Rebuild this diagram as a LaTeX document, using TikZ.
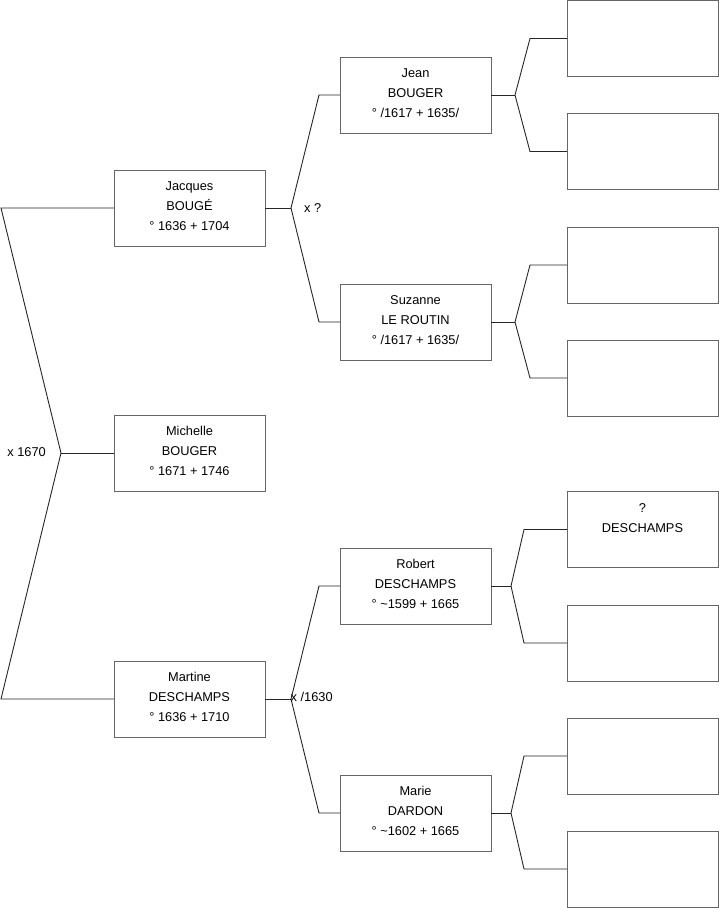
\documentclass[tikz,border=0pt]{standalone}
\usepackage{fontspec}
\setmainfont{Liberation Sans}
\begin{document}
\begin{tikzpicture}[x=1pt,y=-1pt,
  person/.style={draw=black!60, line width=1pt, minimum width=151pt, minimum height=76pt, anchor=north west, inner sep=0pt, outer sep=0pt},
  ptext/.style={anchor=north, yshift=-7.5pt, inner sep=0pt, align=center, font=\fontsize{12.8}{20}\selectfont},
  lbl/.style={inner sep=0pt, font=\fontsize{12.8}{15}\selectfont},
  conn/.style={draw=black!85, line width=0.9pt}]
\useasboundingbox (0,0) rectangle (719,908);
\newcommand{\fl}{\rule{0pt}{13pt}}
% generation 1
\node[person, label={[ptext]north:{\fl Michelle\\BOUGER\\° 1671 + 1746}}] (michelle) at (114,415) {};
% generation 2
\node[person, label={[ptext]north:{\fl Jacques\\BOUGÉ\\° 1636 + 1704}}] (jacques) at (114,170) {};
\node[person, label={[ptext]north:{\fl Martine\\DESCHAMPS\\° 1636 + 1710}}] (martine) at (114,661) {};
% generation 3
\node[person, label={[ptext]north:{\fl Jean\\BOUGER\\° /1617 + 1635/}}] (jean) at (340,57) {};
\node[person, label={[ptext]north:{\fl Suzanne\\LE ROUTIN\\° /1617 + 1635/}}] (suzanne) at (340,284) {};
\node[person, label={[ptext]north:{\fl Robert\\DESCHAMPS\\° \textasciitilde1599 + 1665}}] (robert) at (340,548) {};
\node[person, label={[ptext]north:{\fl Marie\\DARDON\\° \textasciitilde1602 + 1665}}] (marie) at (340,775) {};
% generation 4
\node[person] (g1) at (567,0.5) {};
\node[person] (g2) at (567,113.5) {};
\node[person] (g3) at (567,227) {};
\node[person] (g4) at (567,340) {};
\node[person, label={[ptext]north:{\fl ?\\DESCHAMPS}}] (g5) at (567,491.5) {};
\node[person] (g6) at (567,605) {};
\node[person] (g7) at (567,718) {};
\node[person] (g8) at (567,831) {};
% coordinates
\coordinate (L1) at (1,208);
\coordinate (L2) at (1,699);
\coordinate (vM) at (61,453);
\coordinate (vJ) at (291,208);
\coordinate (tJ1) at (319,95);
\coordinate (tJ2) at (319,322);
\coordinate (vD) at (291,699);
\coordinate (tD1) at (319,586);
\coordinate (tD2) at (319,813);
\coordinate (vJe) at (515,95);
\coordinate (aJe1) at (530,38.5);
\coordinate (aJe2) at (530,151.5);
\coordinate (vSu) at (515,322);
\coordinate (aSu1) at (530,265);
\coordinate (aSu2) at (530,378);
\coordinate (vRo) at (511,586);
\coordinate (aRo1) at (524,529.5);
\coordinate (aRo2) at (524,643);
\coordinate (vMa) at (511,813);
\coordinate (aMa1) at (524,756);
\coordinate (aMa2) at (524,869);
% connectors
\draw[conn] (jacques.west) -- (L1) -- (vM) -- (L2) -- (martine.west);
\draw[conn] (vM) -- (michelle.west);
\draw[conn] (jacques.east) -- (vJ);
\draw[conn] (jean.west) -- (tJ1) -- (vJ) -- (tJ2) -- (suzanne.west);
\draw[conn] (martine.east) -- (vD);
\draw[conn] (robert.west) -- (tD1) -- (vD) -- (tD2) -- (marie.west);
\draw[conn] (jean.east) -- (vJe);
\draw[conn] (g1.west) -- (aJe1) -- (vJe) -- (aJe2) -- (g2.west);
\draw[conn] (suzanne.east) -- (vSu);
\draw[conn] (g3.west) -- (aSu1) -- (vSu) -- (aSu2) -- (g4.west);
\draw[conn] (robert.east) -- (vRo);
\draw[conn] (g5.west) -- (aRo1) -- (vRo) -- (aRo2) -- (g6.west);
\draw[conn] (marie.east) -- (vMa);
\draw[conn] (g7.west) -- (aMa1) -- (vMa) -- (aMa2) -- (g8.west);
% marriage labels
\node[lbl, anchor=base east] (m1) at (46,456.5) {x 1670};
\node[lbl, anchor=base west] (m2) at (304,212.5) {x ?};
\node[lbl, anchor=base west] (m3) at (290.5,701.5) {x /1630};
\end{tikzpicture}
\end{document}
